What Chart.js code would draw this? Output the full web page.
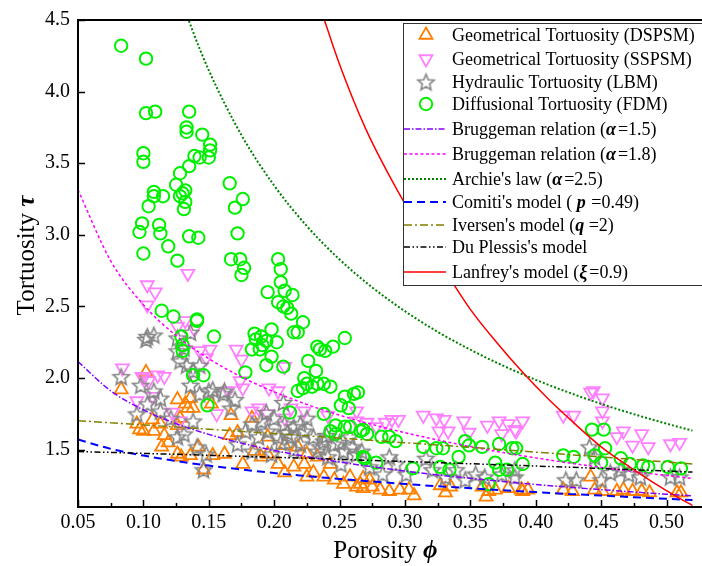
<!DOCTYPE html>
<html><head><meta charset="utf-8">
<script src="https://cdn.jsdelivr.net/npm/chart.js@4.4.0/dist/chart.umd.min.js"></script>
<style>html,body{margin:0;padding:0;background:#fff;}canvas{display:block;}</style>
</head><body>
<canvas id="c" width="702" height="566"></canvas>
<script>
// ---------- DATA ----------
const X_TICKS = [0.05,0.10,0.15,0.20,0.25,0.30,0.35,0.40,0.45,0.50];
const Y_TICKS = [1.5,2.0,2.5,3.0,3.5,4.0,4.5];

const DSPSM = [[0.083,1.92],[0.102,2.04],[0.097,1.64],[0.100,1.63],[0.095,1.68],[0.107,1.71],[0.113,1.68],[0.114,1.52],[0.119,1.55],[0.126,1.47],[0.129,1.45],[0.136,1.46],[0.142,1.52],[0.146,1.36],[0.153,1.46],[0.132,1.82],[0.126,1.85],[0.136,1.86],[0.134,1.79],[0.138,1.79],[0.128,1.72],[0.152,1.82],[0.116,1.60],[0.108,1.63],[0.126,1.67],
[0.166,1.60],[0.167,1.74],[0.162,1.47],[0.176,1.40],[0.185,1.49],[0.190,1.45],[0.195,1.47],[0.203,1.40],[0.208,1.34],[0.215,1.38],[0.223,1.40],[0.230,1.34],[0.238,1.31],[0.246,1.29],[0.253,1.26],[0.263,1.24],[0.268,1.23],[0.258,1.31],[0.183,1.72],[0.195,1.59],[0.208,1.53],[0.218,1.52],[0.225,1.47],[0.233,1.45],[0.243,1.40],[0.172,1.62],[0.225,1.31],
[0.268,1.30],[0.275,1.24],[0.281,1.22],[0.288,1.21],[0.296,1.22],[0.303,1.22],[0.307,1.18],[0.273,1.29],[0.327,1.25],[0.331,1.20],[0.335,1.24],[0.359,1.24],[0.364,1.21],[0.362,1.17],[0.369,1.22],[0.379,1.23],[0.389,1.22],[0.266,1.26],
[0.390,1.21],[0.394,1.22],[0.421,1.22],[0.428,1.21],[0.442,1.31],[0.445,1.22],[0.451,1.21],[0.462,1.21],[0.467,1.22],[0.474,1.21],[0.481,1.21],[0.487,1.20],[0.508,1.20],[0.511,1.20]];

const SSPSM = [[0.134,2.73],[0.103,2.65],[0.109,2.60],[0.103,2.51],[0.132,2.40],[0.139,2.34],[0.126,2.36],[0.151,2.20],[0.148,2.14],[0.143,2.19],[0.084,2.07],[0.099,2.01],[0.111,2.02],[0.116,2.01],[0.104,1.98],[0.095,1.84],[0.107,1.87],[0.156,1.75],[0.128,1.70],[0.122,1.76],[0.100,2.00],
[0.171,2.20],[0.175,2.13],[0.174,1.98],[0.176,1.93],[0.208,2.08],[0.196,1.93],[0.203,1.91],[0.213,1.79],[0.223,1.77],[0.195,1.75],[0.188,1.79],[0.208,1.72],[0.263,1.70],[0.241,1.74],[0.165,1.91],[0.183,1.77],
[0.290,1.71],[0.295,1.71],[0.285,1.69],[0.314,1.74],[0.324,1.72],[0.330,1.71],[0.345,1.70],[0.349,1.62],[0.363,1.67],[0.372,1.70],[0.379,1.68],[0.384,1.64],[0.326,1.63],[0.374,1.61],[0.263,1.77],[0.271,1.69],[0.278,1.66],[0.333,1.63],
[0.390,1.70],[0.442,1.90],[0.444,1.91],[0.451,1.86],[0.451,1.77],[0.451,1.70],[0.421,1.74],[0.429,1.74],[0.467,1.63],[0.462,1.59],[0.481,1.61],[0.474,1.53],[0.486,1.52],[0.503,1.54],[0.510,1.55],[0.385,1.63]];

const LBM = [[0.103,2.29],[0.108,2.30],[0.102,2.27],[0.083,2.01],[0.126,2.28],[0.136,2.32],[0.128,2.12],[0.133,2.09],[0.138,2.05],[0.143,2.09],[0.150,1.91],[0.153,1.92],[0.098,1.95],[0.108,1.91],[0.113,1.86],[0.103,1.82],[0.095,1.75],[0.113,1.77],[0.121,1.72],[0.126,1.59],[0.131,1.61],[0.138,1.70],[0.141,1.52],[0.146,1.36],[0.148,1.47],[0.143,1.89],[0.136,1.95],[0.126,2.19],[0.131,2.21],[0.161,1.89],
[0.162,1.91],[0.170,1.85],[0.167,1.79],[0.194,1.76],[0.200,1.72],[0.207,1.83],[0.208,1.68],[0.215,1.66],[0.223,1.63],[0.230,1.59],[0.238,1.56],[0.246,1.54],[0.253,1.49],[0.263,1.47],[0.195,1.63],[0.188,1.59],[0.203,1.59],[0.183,1.68],[0.178,1.63],[0.213,1.59],[0.220,1.54],[0.233,1.49],[0.241,1.45],[0.251,1.40],[0.225,1.72],[0.172,1.54],[0.183,1.49],[0.198,1.47],[0.258,1.59],
[0.190,1.70],[0.210,1.62],[0.220,1.68],[0.240,1.60],[0.250,1.55],[0.260,1.52],[0.235,1.52],[0.205,1.55],[0.215,1.50],
[0.267,1.49],[0.273,1.38],[0.283,1.33],[0.293,1.40],[0.301,1.33],[0.316,1.44],[0.321,1.36],[0.331,1.31],[0.339,1.36],[0.346,1.29],[0.354,1.33],[0.361,1.31],[0.374,1.33],[0.384,1.31],[0.288,1.45],
[0.423,1.29],[0.431,1.29],[0.441,1.52],[0.445,1.45],[0.450,1.29],[0.457,1.34],[0.465,1.36],[0.471,1.33],[0.480,1.31],[0.503,1.31],[0.510,1.31],[0.384,1.36]];

const FDM = [[0.083,4.32],[0.102,4.23],[0.102,3.85],[0.109,3.86],[0.135,3.86],[0.133,3.75],[0.133,3.72],[0.145,3.70],[0.151,3.63],[0.151,3.59],[0.150,3.54],[0.139,3.55],[0.143,3.54],[0.100,3.57],[0.100,3.51],[0.135,3.48],[0.128,3.43],[0.125,3.35],[0.132,3.31],[0.130,3.29],[0.128,3.27],[0.132,3.23],[0.131,3.18],[0.108,3.30],[0.108,3.27],[0.115,3.27],[0.104,3.20],[0.166,3.36],[0.176,3.25],[0.170,3.19],[0.099,3.08],[0.097,3.02],[0.112,3.07],[0.113,3.01],[0.135,2.99],[0.142,2.98],[0.172,3.01],[0.119,2.92],[0.100,2.87],[0.126,2.82],[0.167,2.83],[0.174,2.83],[0.203,2.83],
[0.114,2.47],[0.123,2.43],[0.141,2.40],[0.141,2.41],[0.154,2.29],[0.129,2.29],[0.130,2.23],[0.130,2.19],[0.138,2.02],[0.146,2.02],[0.149,1.81],
[0.177,2.77],[0.175,2.72],[0.205,2.76],[0.205,2.67],[0.195,2.60],[0.208,2.61],[0.214,2.58],[0.203,2.53],[0.207,2.50],[0.210,2.49],[0.213,2.45],[0.222,2.39],[0.215,2.32],[0.218,2.32],[0.198,2.34],[0.185,2.31],[0.186,2.27],[0.190,2.29],[0.194,2.26],[0.202,2.25],[0.183,2.20],[0.189,2.20],[0.191,2.23],[0.198,2.15],[0.194,2.09],[0.207,2.08],[0.178,2.04],
[0.233,2.22],[0.235,2.20],[0.239,2.19],[0.245,2.22],[0.254,2.28],[0.226,2.12],[0.232,2.05],[0.223,2.00],[0.225,1.96],[0.229,1.94],[0.233,1.96],[0.238,1.96],[0.243,1.94],[0.218,1.91],[0.222,1.93],[0.261,1.89],[0.254,1.87],[0.251,1.81],[0.257,1.79],[0.212,1.76],[0.238,1.75],[0.247,1.67],[0.254,1.66],[0.258,1.66],[0.243,1.63],[0.266,1.63],[0.247,1.61],[0.269,1.44],
[0.264,1.90],[0.268,1.64],[0.271,1.61],[0.282,1.59],[0.288,1.59],[0.293,1.56],[0.314,1.52],[0.324,1.51],[0.329,1.51],[0.341,1.45],[0.346,1.56],[0.349,1.53],[0.359,1.52],[0.372,1.54],[0.382,1.51],[0.268,1.45],[0.278,1.41],[0.306,1.37],[0.327,1.38],[0.334,1.36],[0.369,1.41],[0.372,1.36],[0.378,1.36],[0.364,1.26],
[0.443,1.64],[0.452,1.64],[0.453,1.51],[0.445,1.46],[0.450,1.41],[0.421,1.46],[0.429,1.45],[0.390,1.40],[0.385,1.51],[0.465,1.44],[0.472,1.40],[0.482,1.39],[0.486,1.38],[0.501,1.38],[0.511,1.37]];

// model curves
const PHI_GRID = [0.05,0.075,0.10,0.125,0.15,0.175,0.20,0.225,0.25,0.275,0.30,0.325,0.35,0.375,0.40,0.425,0.45,0.475,0.50,0.52];
const BRUGG15 = [2.115,1.911,1.778,1.682,1.607,1.546,1.495,1.452,1.414,1.381,1.351,1.324,1.300,1.278,1.257,1.239,1.221,1.205,1.189,1.178];
const BRUGG18 = [3.314,2.818,2.512,2.297,2.136,2.008,1.904,1.816,1.741,1.676,1.619,1.568,1.522,1.480,1.443,1.408,1.376,1.347,1.320,1.299];
const COMITI  = [1.571,1.506,1.459,1.421,1.389,1.362,1.337,1.316,1.296,1.278,1.261,1.245,1.231,1.217,1.204,1.191,1.180,1.168,1.157,1.149];
const IVERSEN = [1.703,1.688,1.673,1.658,1.643,1.628,1.613,1.597,1.581,1.565,1.549,1.533,1.517,1.500,1.483,1.466,1.449,1.432,1.414,1.400];
const DUPLESSIS = [1.487,1.481,1.474,1.468,1.461,1.454,1.447,1.440,1.433,1.425,1.418,1.410,1.402,1.394,1.386,1.378,1.369,1.360,1.351,1.344];
const ARCHIE_PHI = [0.10,0.125,0.1375,0.15,0.175,0.20,0.225,0.25,0.275,0.30,0.325,0.35,0.375,0.40,0.425,0.45,0.475,0.50,0.52];
const ARCHIE     = [5.623,4.757,4.429,4.149,3.696,3.344,3.061,2.828,2.633,2.467,2.323,2.198,2.087,1.988,1.900,1.820,1.748,1.682,1.633];
const LANFREY_PHI = [0.23,0.238,0.25,0.27,0.29,0.31,0.33,0.35,0.37,0.39,0.41,0.43,0.45,0.47,0.49,0.51,0.52];
const LANFREY     = [4.72,4.51,4.19,3.74,3.38,3.06,2.76,2.48,2.25,2.04,1.85,1.68,1.52,1.39,1.27,1.16,1.11];

// ---------- helpers ----------
const SERIF = "'Liberation Serif','Times New Roman',serif";
const pts = arr => arr.map(p => ({x:p[0], y:p[1]}));
const zipXY = (xs, ys) => xs.map((x,i) => ({x, y:ys[i]}));

function makeStar(color, R, lw){
  const s = Math.ceil(2*R + 2*lw + 2);
  const c = document.createElement('canvas'); c.width = s; c.height = s;
  const g = c.getContext('2d');
  g.strokeStyle = color; g.lineWidth = lw; g.lineJoin = 'miter';
  g.beginPath();
  const r = R*0.45, cx = s/2, cy = s/2 + R*0.1;
  for (let i=0;i<10;i++){
    const a = -Math.PI/2 + i*Math.PI/5, rr = (i%2===0)?R:r;
    const px = cx + rr*Math.cos(a), py = cy + rr*Math.sin(a);
    if (i) g.lineTo(px,py); else g.moveTo(px,py);
  }
  g.closePath(); g.stroke();
  return c;
}
const STAR = makeStar('#858585', 8.5, 1.6);

const C_OR = '#ff8000', C_PK = '#ff80ff', C_GR = '#858585', C_GN = '#00f000';

const scatter = (data, color, style, extra, order) => Object.assign({
  data: pts(data), pointStyle: style, borderColor: color, backgroundColor: 'rgba(0,0,0,0)',
  pointBorderWidth: 1.8, pointRadius: 7.5, showLine: false, order
}, extra);

const curve = (xs, ys, color, dash, width, order) => ({
  data: zipXY(xs, ys), showLine: true, pointRadius: 0, borderColor: color, borderWidth: width,
  borderDash: dash, fill: false, cubicInterpolationMode: 'monotone', order
});

const LINE_STYLES = [
  {color:'#8000ff', dash:[6,2,1.5,2], width:1.5},   // Brugg 1.5
  {color:'#ff00ff', dash:[3,2.5], width:1.5},       // Brugg 1.8
  {color:'#008000', dash:[2,2], width:2},           // Archie
  {color:'#0000ff', dash:[8,5], width:2},           // Comiti
  {color:'#808000', dash:[8,3,2,3], width:1.5},     // Iversen
  {color:'#000000', dash:[6,2.5,1.5,2.5,1.5,2.5], width:1.5}, // Du Plessis
  {color:'#ff0000', dash:[], width:1.5}             // Lanfrey
];

const datasets = [
  scatter(DSPSM, C_OR, 'triangle', {}, 10),
  scatter(SSPSM, C_PK, 'triangle', {rotation:180}, 9),
  scatter(LBM, C_GR, STAR, {}, 8),
  scatter(FDM, C_GN, 'circle', {pointRadius:6.2, pointBorderWidth:2}, 7),
  curve(PHI_GRID, BRUGG15, LINE_STYLES[0].color, LINE_STYLES[0].dash, LINE_STYLES[0].width, 6),
  curve(PHI_GRID, BRUGG18, LINE_STYLES[1].color, LINE_STYLES[1].dash, LINE_STYLES[1].width, 5),
  curve(ARCHIE_PHI, ARCHIE, LINE_STYLES[2].color, LINE_STYLES[2].dash, LINE_STYLES[2].width, 4),
  curve(PHI_GRID, COMITI, LINE_STYLES[3].color, LINE_STYLES[3].dash, LINE_STYLES[3].width, 3),
  curve(PHI_GRID, IVERSEN, LINE_STYLES[4].color, LINE_STYLES[4].dash, LINE_STYLES[4].width, 2),
  curve(PHI_GRID, DUPLESSIS, LINE_STYLES[5].color, LINE_STYLES[5].dash, LINE_STYLES[5].width, 1),
  curve(LANFREY_PHI, LANFREY, LINE_STYLES[6].color, LINE_STYLES[6].dash, LINE_STYLES[6].width, 0)
];

// rich text: parts = [[text, bold, extraSpace]]
function drawRich(ctx, parts, x, y, size, align){
  const fonts = parts.map(p => (p[1] ? 'bold italic ' : '') + size + 'px ' + SERIF);
  let total = 0; const ws = [];
  parts.forEach((p,i) => { ctx.font = fonts[i]; const w = ctx.measureText(p[0]).width + (p[2]||0); ws.push(w); total += w; });
  let cx = align === 'center' ? x - total/2 : x;
  parts.forEach((p,i) => { ctx.font = fonts[i]; ctx.fillText(p[0], cx, y); cx += ws[i]; });
}

const LEGEND_ROWS = [
  {type:'m', ds:0, parts:[['Geometrical Tortuosity (DSPSM)']]},
  {type:'m', ds:1, parts:[['Geometrical Tortuosity (SSPSM)']]},
  {type:'m', ds:2, parts:[['Hydraulic Tortuosity (LBM)']]},
  {type:'m', ds:3, parts:[['Diffusional Tortuosity (FDM)']]},
  {type:'l', ls:0, parts:[['Bruggeman relation ('],['\u03B1',1,2],['=1.5)']]},
  {type:'l', ls:1, parts:[['Bruggeman relation ('],['\u03B1',1,2],['=1.8)']]},
  {type:'l', ls:2, parts:[['Archie\'s law ('],['\u03B1',1,2],['=2.5)']]},
  {type:'l', ls:3, parts:[['Comiti\'s model ( '],['p',1,1],[' =0.49)']]},
  {type:'l', ls:4, parts:[['Iversen\'s model ('],['q',1,0],[' =2)']]},
  {type:'l', ls:5, parts:[['Du Plessis\'s model']]},
  {type:'l', ls:6, parts:[['Lanfrey\'s model ('],['\u03BE',1,2],['=0.9)']]}
];
const LEGEND_Y = [35,59,82,104,129,154,179,202,225,247,272];

const decor = {
  id:'decor',
  afterDatasetsDraw(chart){
    const ctx = chart.ctx;
    ctx.save();
    // legend box
    const bx = 403, by = 23, bw = 300, bh = 262;
    ctx.fillStyle = '#fff'; ctx.fillRect(bx, by, bw, bh);
    ctx.strokeStyle = '#333'; ctx.lineWidth = 1;
    ctx.strokeRect(bx + 0.5, by + 0.5, bw, bh);
    LEGEND_ROWS.forEach((row, i) => {
      const yy = LEGEND_Y[i];
      if (row.type === 'm') {
        const ds = datasets[row.ds];
        ctx.save();
        ctx.strokeStyle = ds.borderColor; ctx.fillStyle = 'rgba(0,0,0,0)'; ctx.lineWidth = ds.pointBorderWidth;
        Chart.helpers.drawPoint(ctx, {pointStyle: ds.pointStyle, rotation: ds.rotation || 0, radius: ds.pointRadius, borderWidth: ds.pointBorderWidth}, 426, yy);
        ctx.restore();
      } else {
        const ls = LINE_STYLES[row.ls];
        ctx.strokeStyle = ls.color; ctx.lineWidth = ls.width; ctx.setLineDash(ls.dash);
        ctx.beginPath(); ctx.moveTo(404, yy); ctx.lineTo(446, yy); ctx.stroke();
        ctx.setLineDash([]);
      }
      ctx.fillStyle = '#000'; ctx.textBaseline = 'middle';
      drawRich(ctx, row.parts, 452, yy + 1, 18, 'left');
    });
    ctx.restore();
  },
  afterDraw(chart){
    const ctx = chart.ctx;
    const {left, right, top, bottom} = chart.chartArea;
    const xs = chart.scales.x, ys = chart.scales.y;
    ctx.save();
    ctx.strokeStyle = '#000'; ctx.lineWidth = 2;
    ctx.beginPath();
    ctx.moveTo(702, top); ctx.lineTo(left, top); ctx.lineTo(left, bottom); ctx.lineTo(702, bottom);
    ctx.stroke();
    ctx.lineWidth = 1.5;
    ctx.beginPath();
    for (let k = 0; k <= 18; k++) {
      const v = 0.05 + k*0.025;
      const px = Math.round(xs.getPixelForValue(v)) + 0.5;
      const len = (k % 2 === 0) ? 7 : 4;
      ctx.moveTo(px, bottom); ctx.lineTo(px, bottom - len);
    }
    Y_TICKS.forEach(v => {
      const py = Math.round(ys.getPixelForValue(v)) + 0.5;
      ctx.moveTo(left, py); ctx.lineTo(left + 7, py);
    });
    ctx.stroke();
    // axis titles
    ctx.fillStyle = '#000'; ctx.textBaseline = 'alphabetic';
    drawRich(ctx, [['Porosity '],['\u03D5',1]], (left + right)/2, 558, 25, 'center');
    ctx.save();
    ctx.translate(34, (top + bottom)/2 - 8);
    ctx.rotate(-Math.PI/2);
    drawRich(ctx, [['Tortuosity '],['\u03C4',1]], 0, 0, 25, 'center');
    ctx.restore();
    ctx.restore();
  }
};

Chart.defaults.font.family = SERIF;
new Chart(document.getElementById('c'), {
  type: 'scatter',
  data: { datasets },
  options: {
    responsive: false, animation: false, devicePixelRatio: 1,
    layout: { padding: { top: 15, right: 2, left: 0, bottom: 0 } },
    plugins: { legend: { display: false }, tooltip: { enabled: false } },
    elements: { line: { tension: 0 } },
    scales: {
      x: {
        type: 'linear', min: 0.05, max: 0.52,
        afterBuildTicks: s => { s.ticks = X_TICKS.map(v => ({value: v})); },
        afterFit: s => { s.height = 59; },
        grid: { display: false, drawTicks: false }, border: { display: false },
        ticks: { color: '#000', font: { size: 20, family: SERIF }, padding: 4, maxRotation: 0, autoSkip: false,
                 callback: v => Number(v).toFixed(2) }
      },
      y: {
        type: 'linear', min: 1.1, max: 4.5,
        afterBuildTicks: s => { s.ticks = Y_TICKS.map(v => ({value: v})); },
        afterFit: s => { s.width = 78; },
        grid: { display: false, drawTicks: false }, border: { display: false },
        ticks: { color: '#000', font: { size: 20, family: SERIF }, padding: 8, autoSkip: false,
                 callback: v => Number(v).toFixed(1) }
      }
    }
  },
  plugins: [decor]
});
</script>
</body></html>
